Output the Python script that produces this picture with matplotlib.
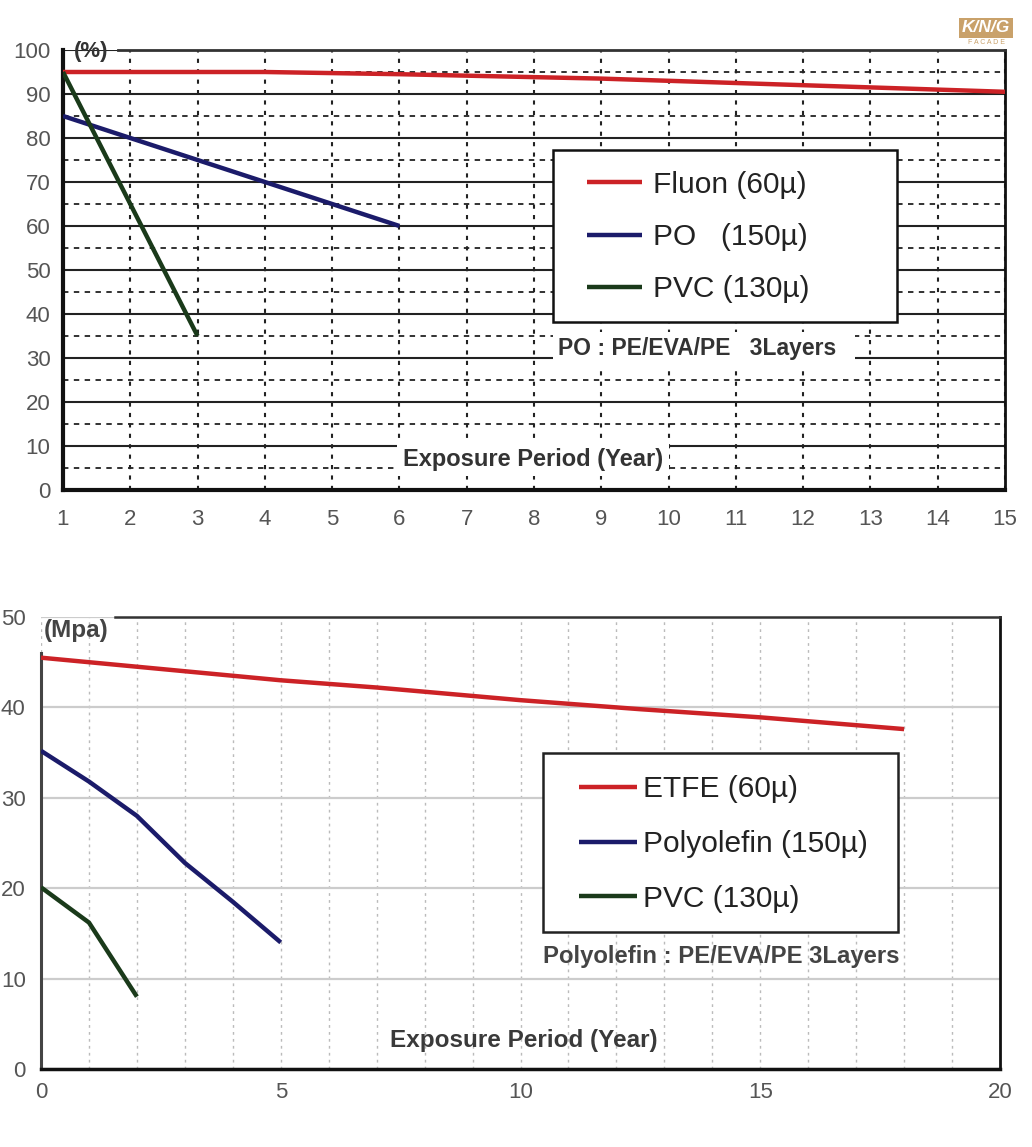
import matplotlib
matplotlib.use("Agg")
import matplotlib.pyplot as plt
from matplotlib.patches import Rectangle
from matplotlib.ticker import MultipleLocator, NullFormatter

plt.rcParams['font.family'] = ['Liberation Sans', 'DejaVu Sans']

# ---------------- data: top chart (%) ----------------
top_years_fluon = [1, 4, 6, 9, 12, 15]
top_fluon = [95, 95, 94.5, 93.5, 92, 90.5]
top_years_po = [1, 2, 3, 4, 5, 6]
top_po = [85, 80, 75, 70, 65, 60]
top_years_pvc = [1, 2, 3]
top_pvc = [95, 65, 35]
top_labels = ["Fluon (60\u00b5)", "PO   (150\u00b5)", "PVC (130\u00b5)"]
top_xticks = list(range(1, 16))
top_yticks = list(range(0, 101, 10))

# ---------------- data: bottom chart (Mpa) ----------------
bot_years_etfe = [0, 2, 5, 7, 10, 12.5, 15, 18]
bot_etfe = [45.5, 44.5, 43.0, 42.2, 40.8, 39.8, 38.9, 37.6]
bot_years_poly = [0, 1, 2, 3, 4, 5]
bot_poly = [35.2, 31.8, 28.0, 22.8, 18.5, 14.0]
bot_years_pvc = [0, 1, 2]
bot_pvc = [20.1, 16.2, 8.0]
bot_labels = ["ETFE (60\u00b5)", "Polyolefin (150\u00b5)", "PVC (130\u00b5)"]
bot_xticks = [0, 5, 10, 15, 20]
bot_yticks = [0, 10, 20, 30, 40, 50]

RED = "#cc2226"
BLUE = "#1b1b6a"
GREEN = "#1a3a1a"
LW = 3.2
W, H = 1032, 1147

fig = plt.figure(figsize=(W / 100, H / 100), dpi=100)
fig.patch.set_facecolor("white")


def fx(px):
    return px / W


def fy(py):
    return 1 - py / H


# ================= top chart =================
ax1 = fig.add_axes([fx(63), fy(490), (1005 - 63) / W, (490 - 50) / H])
ax1.set_xlim(1, 15)
ax1.set_ylim(0, 100)
ax1.set_xticks(top_xticks)
ax1.set_yticks(top_yticks)
ax1.yaxis.set_minor_locator(MultipleLocator(5))
ax1.yaxis.set_minor_formatter(NullFormatter())
ax1.tick_params(axis='both', which='both', length=0, labelsize=16, labelcolor="#555555")
ax1.tick_params(axis='y', pad=9)
ax1.tick_params(axis='x', pad=14)
ax1.grid(axis='y', which='major', color="#222222", lw=1.5, ls='-', zorder=0)
ax1.grid(axis='y', which='minor', color="#222222", lw=1.3, ls=(0, (3, 3)), zorder=0)
ax1.grid(axis='x', which='major', color="#222222", lw=1.5, ls=(0, (2, 3)), zorder=0)
ax1.set_axisbelow(True)
for s in ['left', 'bottom']:
    ax1.spines[s].set_linewidth(3)
    ax1.spines[s].set_color("#111111")
ax1.spines['right'].set_linewidth(2)
ax1.spines['right'].set_color("#111111")
ax1.spines['top'].set_linewidth(2)
ax1.spines['top'].set_color("#333333")
ax1.spines['top'].set_bounds(1.82, 15)

l1, = ax1.plot(top_years_fluon, top_fluon, color=RED, lw=LW, solid_capstyle='butt', zorder=4)
l2, = ax1.plot(top_years_po, top_po, color=BLUE, lw=LW, solid_capstyle='butt', zorder=4)
l3, = ax1.plot(top_years_pvc, top_pvc, color=GREEN, lw=LW, solid_capstyle='butt', zorder=4)

ax1.text(1.42, 99.6, "(%)", fontsize=16, fontweight='bold', color="#333333",
         ha='center', va='center', clip_on=False)

box1 = Rectangle((fx(553), fy(322)), (897 - 553) / W, (322 - 150) / H,
                 transform=fig.transFigure, facecolor='white', edgecolor="#111111",
                 lw=1.8, zorder=5, clip_on=False)
ax1.add_patch(box1)
leg1 = ax1.legend([l1, l2, l3], top_labels, loc='center left',
                  bbox_to_anchor=(fx(587), fy(237)), bbox_transform=fig.transFigure,
                  fontsize=21.5, frameon=False, handlelength=1.84, handletextpad=0.37,
                  labelspacing=0.82, borderpad=0, borderaxespad=0)
leg1.set_zorder(6)
for t in leg1.get_texts():
    t.set_color("#222222")

fig.text(fx(558), fy(349), "PO : PE/EVA/PE   3Layers  ", fontsize=16.5, fontweight='bold',
         color="#333333", ha='left', va='center', zorder=7,
         bbox=dict(facecolor='white', edgecolor='none', pad=4))
fig.text(fx(403), fy(459), "Exposure Period (Year)", fontsize=17, fontweight='bold',
         color="#333333", ha='left', va='center', zorder=7,
         bbox=dict(facecolor='white', edgecolor='none', pad=4))

# ================= bottom chart =================
ax2 = fig.add_axes([fx(41), fy(1069), (1000 - 41) / W, (1069 - 617) / H])
ax2.set_xlim(0, 20)
ax2.set_ylim(0, 50)
ax2.set_xticks(bot_xticks)
ax2.set_yticks(bot_yticks)
ax2.xaxis.set_minor_locator(MultipleLocator(1))
ax2.xaxis.set_minor_formatter(NullFormatter())
ax2.tick_params(axis='both', which='both', length=0, labelsize=16, labelcolor="#555555")
ax2.tick_params(axis='y', pad=11)
ax2.tick_params(axis='x', pad=9)
ax2.grid(axis='y', which='major', color="#cccccc", lw=1.6, ls='-', zorder=0)
ax2.grid(axis='x', which='both', color="#bbbbbb", lw=1.0, ls=(0, (2, 3)), zorder=0)
ax2.set_axisbelow(True)
ax2.spines['left'].set_linewidth(2.2)
ax2.spines['left'].set_color("#444444")
ax2.spines['left'].set_bounds(0, 46)
ax2.spines['bottom'].set_linewidth(2.5)
ax2.spines['bottom'].set_color("#111111")
ax2.spines['right'].set_linewidth(2)
ax2.spines['right'].set_color("#111111")
ax2.spines['top'].set_linewidth(1.8)
ax2.spines['top'].set_color("#333333")
ax2.spines['top'].set_bounds(1.54, 20)

m1, = ax2.plot(bot_years_etfe, bot_etfe, color=RED, lw=LW, solid_capstyle='butt', zorder=4)
m2, = ax2.plot(bot_years_poly, bot_poly, color=BLUE, lw=LW, solid_capstyle='butt', zorder=4)
m3, = ax2.plot(bot_years_pvc, bot_pvc, color=GREEN, lw=LW, solid_capstyle='butt', zorder=4)

ax2.text(0.05, 48.5, "(Mpa)", fontsize=17.5, fontweight='bold', color="#444444",
         ha='left', va='center', clip_on=False)

box2 = Rectangle((fx(543), fy(932)), (898 - 543) / W, (932 - 753) / H,
                 transform=fig.transFigure, facecolor='white', edgecolor="#222222",
                 lw=1.8, zorder=5, clip_on=False)
ax2.add_patch(box2)
leg2 = ax2.legend([m1, m2, m3], bot_labels, loc='center left',
                  bbox_to_anchor=(fx(579), fy(844)), bbox_transform=fig.transFigure,
                  fontsize=21.5, frameon=False, handlelength=1.94, handletextpad=0.2,
                  labelspacing=0.9, borderpad=0, borderaxespad=0)
leg2.set_zorder(6)
for t in leg2.get_texts():
    t.set_color("#222222")

fig.text(fx(543), fy(957), "Polyolefin : PE/EVA/PE 3Layers", fontsize=17.2, fontweight='bold',
         color="#444444", ha='left', va='center', zorder=7)
fig.text(fx(390), fy(1041), "Exposure Period (Year)", fontsize=17.5, fontweight='bold',
         color="#3a3a3a", ha='left', va='center', zorder=7)

# ================= logo =================
fig.text(fx(986), fy(28), "K/N/G", fontsize=12.5, fontweight='bold', fontstyle='italic',
         color='white', ha='center', va='center',
         bbox=dict(facecolor="#c9a16a", edgecolor='none', pad=2))
fig.text(fx(987), fy(43), "F A C A D E", fontsize=5, color="#c9a16a",
         ha='center', va='center')

fig.savefig("out.png", dpi=100, facecolor='white')
